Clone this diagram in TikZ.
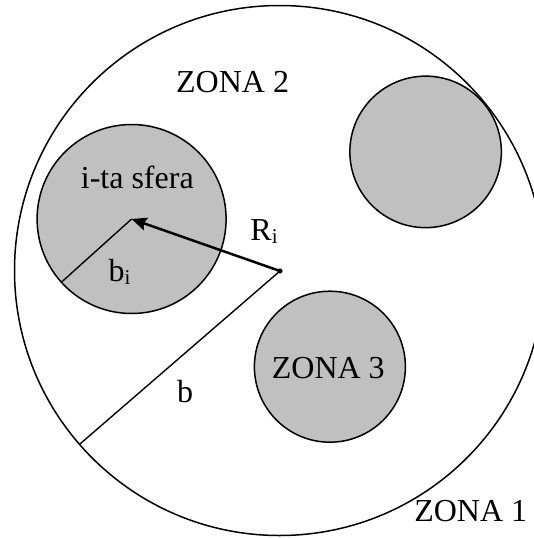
\documentclass[tikz,border=0pt]{standalone}
\usepackage{fontspec}
\setmainfont{Liberation Serif}
\usetikzlibrary{arrows.meta}
\definecolor{sphgray}{RGB}{192,192,192}
\newcommand{\lowsub}[1]{\raisebox{-0.12em}{\fontsize{21}{24}\selectfont #1}}
\tikzset{
  outer/.style={circle, draw=black, line width=1.5pt, inner sep=0pt, outer sep=0pt, minimum size=#1},
  sphere/.style={circle, draw=black, fill=sphgray, line width=1.5pt, inner sep=0pt, outer sep=0pt, minimum size=#1},
  lbl/.style={inner sep=0pt, anchor=base, font=\fontsize{32}{36}\selectfont},
  radius line/.style={line width=1.4pt},
  vec/.style={line width=2.5pt, -{Stealth[length=15pt,width=13pt,inset=2pt]}},
}
\begin{document}
\begin{tikzpicture}[x=1pt,y=-1pt]
\useasboundingbox (0,0) rectangle (534,538);
\node[outer=530pt] (big) at (279.5,270.5) {};
\node[sphere=189pt] (s1) at (131.6,219) {};
\node[sphere=151.5pt] (s2) at (425.6,151.9) {};
\node[sphere=151pt] (s3) at (329.9,366.7) {};
\coordinate (O) at (280,271);
\draw[radius line] (O) -- (big.221);
\draw[radius line] (s1.center) -- (s1.222);
\draw[vec] (O) -- (s1.center);
\fill (O) circle (2.6pt);
\node[lbl] (z2) at (232.6,92.6) {ZONA 2};
\node[lbl] (sf) at (137.3,188.3) {i-ta sfera};
\node[lbl] (ri) at (264,240) {R\lowsub{i}};
\node[lbl] (bi) at (119.5,281) {b\lowsub{i}};
\node[lbl] (z3) at (328.3,378) {ZONA 3};
\node[lbl] (bb) at (185,402) {b};
\node[lbl] (z1) at (470.7,521) {ZONA 1};
\end{tikzpicture}
\end{document}
